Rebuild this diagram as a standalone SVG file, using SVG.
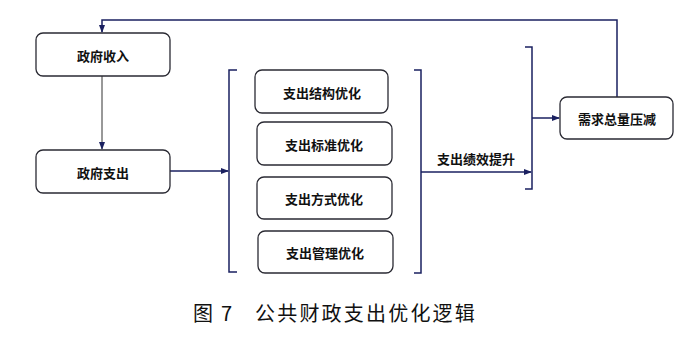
<svg xmlns="http://www.w3.org/2000/svg" width="700" height="341" viewBox="0 0 700 341">
<defs>
<marker id="ah" markerWidth="8" markerHeight="6" refX="7" refY="3" orient="auto" markerUnits="userSpaceOnUse">
<path d="M0,0 L8,3 L0,6 z" fill="#1a2060"/>
</marker>
<style>
.box{fill:#fff;stroke:#2a2a33;stroke-width:1.3}
.lbl{font-family:"Noto Sans CJK SC",sans-serif;font-size:13px;font-weight:bold;fill:#111;text-anchor:middle;dominant-baseline:central}
.ln{fill:none;stroke:#1a2060;stroke-width:1.5}
.thin{fill:none;stroke:#333;stroke-width:1}
.cap{font-family:"Noto Sans CJK SC",sans-serif;font-size:20px;fill:#111}
</style>
</defs>
<rect width="700" height="341" fill="#fff"/>
<g id="connectors">
<path class="ln" d="M617,97 V20 H102 V32" marker-end="url(#ah)"/>
<path class="thin" d="M102,76 V149" marker-end="url(#ah)"/>
<path class="ln" d="M170,171 H228" marker-end="url(#ah)"/>
<path class="ln" d="M237,70 H229 V272 H237"/>
<path class="ln" d="M414,70 H421 V273 H414"/>
<path class="ln" d="M421,172 H531" marker-end="url(#ah)"/>
<path class="ln" d="M525,47 H532 V189 H525"/>
<path class="ln" d="M532,118 H559" marker-end="url(#ah)"/>
<text class="lbl" x="476" y="158">支出绩效提升</text>
</g>
<g id="n1"><rect class="box" x="36" y="33" width="134" height="43" rx="7"/><text class="lbl" x="103" y="55">政府收入</text></g>
<g id="n2"><rect class="box" x="36" y="150" width="134" height="43" rx="7"/><text class="lbl" x="103" y="172">政府支出</text></g>
<g id="n3"><rect class="box" x="255" y="70" width="133" height="43" rx="7"/><text class="lbl" x="322" y="92">支出结构优化</text></g>
<g id="n4"><rect class="box" x="257" y="122" width="135" height="43" rx="7"/><text class="lbl" x="324" y="144">支出标准优化</text></g>
<g id="n5"><rect class="box" x="257" y="177" width="135" height="42" rx="7"/><text class="lbl" x="324" y="198">支出方式优化</text></g>
<g id="n6"><rect class="box" x="258" y="231" width="135" height="42" rx="7"/><text class="lbl" x="325" y="252">支出管理优化</text></g>
<g id="n7"><rect class="box" x="560" y="97" width="113" height="42" rx="7"/><text class="lbl" x="617" y="118">需求总量压减</text></g>
<text class="cap" x="193" y="321">图</text>
<text class="cap" x="221" y="321">7</text>
<text class="cap" x="255" y="321" letter-spacing="2.2">公共财政支出优化逻辑</text>
</svg>
